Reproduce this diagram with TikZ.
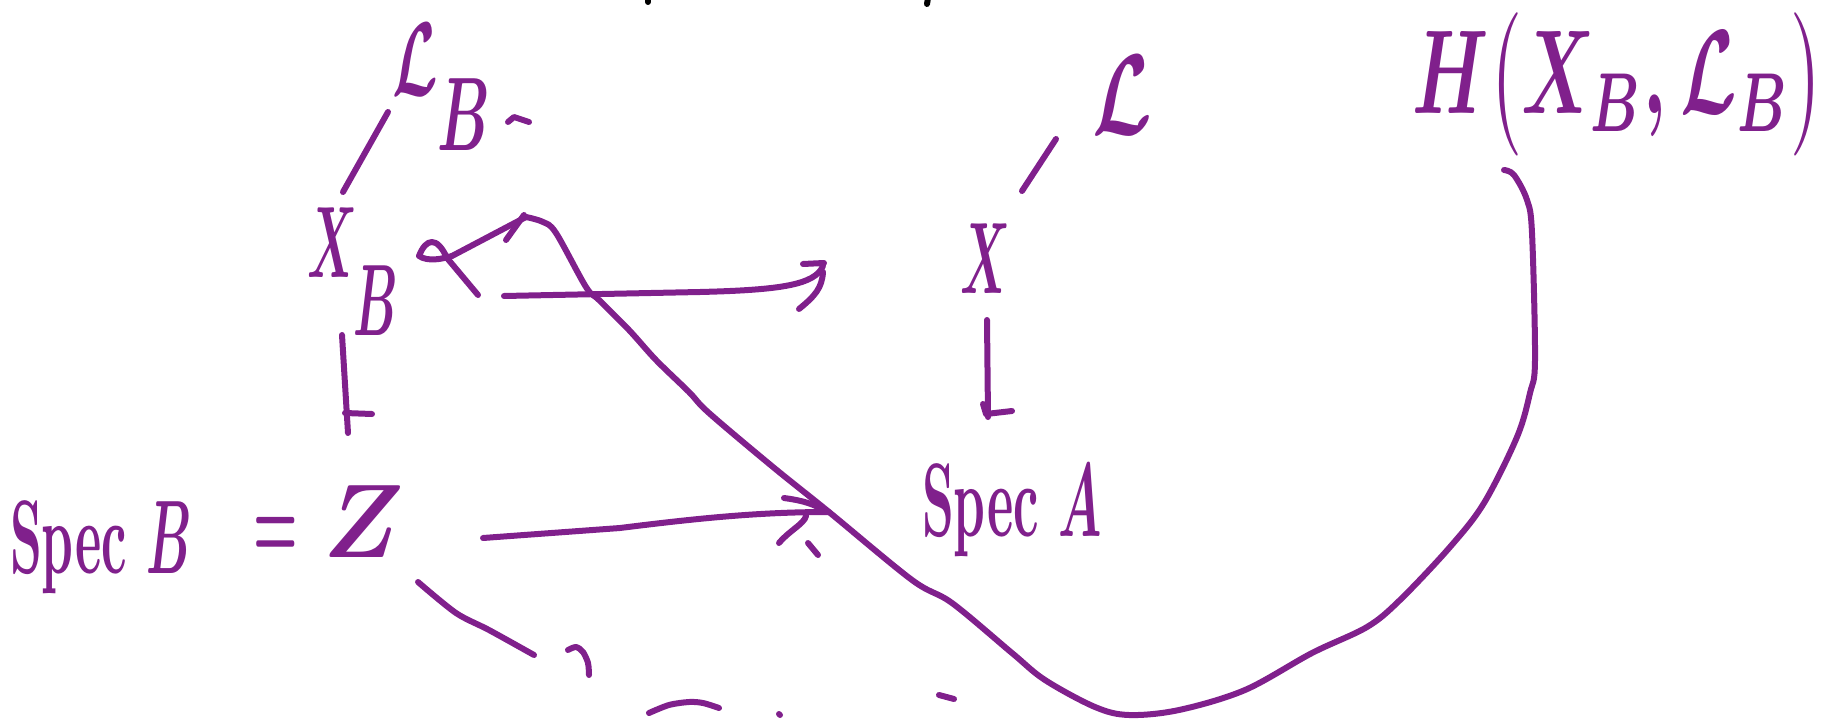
\documentclass[tikz,border=0pt]{standalone}
\definecolor{ink}{RGB}{128,32,140}
\tikzset{
  pen/.style={draw=ink, line width=6bp, line cap=round, line join=round},
  blackpen/.style={draw=black, line width=6bp, line cap=round},
  lbl/.style={text=ink, inner sep=0pt, outer sep=0pt, anchor=base west},
}
% #1 horizontal factor, #2 vertical factor (applied to 10pt bold text)
\newcommand{\hwtext}[3]{\scalebox{#1}[#2]{\fontsize{10}{10}\selectfont\bfseries\boldmath #3}}
\begin{document}
\begin{tikzpicture}[x=1bp,y=-1bp]
\useasboundingbox (0,0) rectangle (1823,720);
\clip (0,0) rectangle (1823,720);

% ---- nodes (texts) ----
\node[lbl] (LB) at (392,96) {\hwtext{5.8}{10.5}{$\mathcal{L}$\raisebox{-0.52em}{$B$}}};
\node[lbl] (XB) at (307,277) {\hwtext{4.9}{10.2}{$X$\kern-0.08em\raisebox{-0.58em}{$B$}}};
\node[lbl] (SpecB) at (10,573) {\hwtext{5.0}{10.5}{Spec $B$}\hspace{62bp}\hwtext{5.0}{10.5}{\raisebox{1.4pt}{$=$}}\hspace{25bp}\hwtext{9.6}{10.5}{\raisebox{1.5pt}{$Z$}}};
\node[lbl] (L) at (1092,135) {\hwtext{7.6}{11.5}{$\mathcal{L}$}};
\node[lbl] (X) at (960,293) {\hwtext{4.9}{10.2}{$X$}};
\node[lbl] (SpecA) at (922,536) {\hwtext{5.0}{10.5}{Spec $A$}};
\node[lbl] (H) at (1412,114) {\hwtext{7.2}{12}{$H\bigl(X_B,\mathcal{L}_B\bigr)$}};

% ---- connector end points ----
\coordinate (lbA) at (388,112);  \coordinate (xbA) at (343,192);
\coordinate (lA)  at (1056,139); \coordinate (xA)  at (1022,191);
\coordinate (xbD) at (342,335);  \coordinate (sbU) at (348,433);
\coordinate (xD)  at (987,320);  \coordinate (saU) at (988,417);
\coordinate (xbR) at (504,296);  \coordinate (topTip) at (823,266);
\coordinate (zR)  at (483,538);  \coordinate (botTip) at (829,512);
\coordinate (curveA) at (526,217); \coordinate (hEnd) at (1504,170);

% lines from line bundles to schemes
\draw[pen] (lbA) -- (xbA);
\draw[pen] (lA) -- (xA);

% vertical arrows
\draw[pen] (xbD) -- (sbU);
\draw[pen] (345,413) -- (372,414);
\draw[pen] (xD) -- (saU);
\draw[pen] (983,404) -- (986,414) -- (1012,411);

% top horizontal arrow
\draw[pen] (xbR) -- (700,292) .. controls (780,290) and (815,285) .. (topTip);
\draw[pen] (803,264) -- (824,263);
\draw[pen] (799,309) .. controls (815,296) and (822,288) .. (823,272);

% bottom horizontal arrow
\draw[pen] (zR) -- (620,528) .. controls (700,518) and (760,512) .. (botTip);
\draw[pen] (784,498) .. controls (806,501) and (816,505) .. (826,512);
\draw[pen] (779,543) .. controls (790,530) and (804,524) .. (806,516);
\draw[pen] (808,543) -- (818,555);

% arrow strokes near X_B
\draw[pen] (447,258) .. controls (437,236) and (426,238) .. (419,256)
           .. controls (428,262) and (442,259) .. (452,256);
\draw[pen] (447,258) -- (478,295);
\draw[pen] (452,256) -- (curveA);
\draw[pen] (506,240) -- (524,215);

% big curve to H
\draw[pen] plot[smooth, tension=0.55] coordinates {
  (curveA) (543,222) (556,233) (586,287) (599,300) (629,330) (656,360)
  (689,392) (709,413) (773,467) (829,512) (912,580) (952,603) (1012,653)
  (1045,680) (1095,707) (1129,715) (1179,710) (1245,690) (1312,653)
  (1367,627) (1400,600) (1450,547) (1484,503) (1517,437) (1530,393)
  (1535,360) (1532,233) (1527,200) (1514,175) (hEnd)};

% dash after L_B
\draw[pen] (508,122) -- (514,117) -- (529,122);

% bottom remnants
\draw[pen] plot[smooth] coordinates {(418,582) (456,613) (489,630) (534,655)};
\draw[pen] plot[smooth] coordinates {(568,650) (576,647) (583,652) (588,663) (589,675)};
\draw[pen] plot[smooth] coordinates {(649,713) (669,705) (689,702) (703,703) (719,708)};
\draw[pen] (779,714) -- (780,715);
\draw[pen] (939,695) -- (954,699);

% marks at the top edge
\draw[blackpen] (648,-2) -- (648,2);
\draw[blackpen] (928,-2) -- (927,4);
\end{tikzpicture}
\end{document}
